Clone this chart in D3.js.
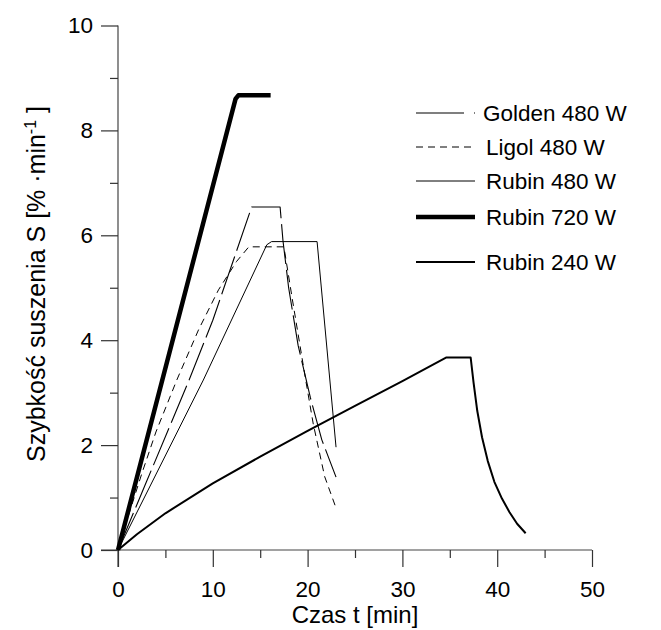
<!DOCTYPE html>
<html>
<head>
<meta charset="utf-8">
<script src="https://cdn.jsdelivr.net/npm/d3@7/dist/d3.min.js"></script>
<style>
  body { margin: 0; background: #fff; }
  text { font-family: "Liberation Sans", Arial, sans-serif; fill: #000; }
</style>
</head>
<body>
<script>
// series: [t (min), S (%/min)]
var golden480 = [[0,0],[3,1.3],[7.5,3.24],[10,4.38],[14.1,6.54],[17.1,6.54],[17.4,5.9],[18,5.0],[19,3.9],[20.3,2.9],[21.5,2.1],[23,1.39]];
var ligol480 = [[0,0],[1,0.6],[2.5,1.45],[4,2.25],[6.2,3.24],[8.5,4.2],[10.6,4.96],[12.5,5.5],[13.8,5.78],[17.5,5.78],[18.4,4.77],[19.8,3.24],[20.6,2.4],[21.8,1.4],[23,0.8]];
var rubin480 = [[0,0],[9,3.24],[15.7,5.82],[16.2,5.88],[21,5.88],[23,1.96]];
var rubin720 = [[0,0],[12.4,8.6],[12.7,8.67],[16.1,8.67]];
var rubin240 = [[0,0],[2,0.3],[5,0.7],[10,1.27],[15,1.78],[20,2.27],[25,2.75],[30,3.22],[34.6,3.67],[37.2,3.67],[37.5,3.2],[37.9,2.65],[38.4,2.15],[39,1.7],[39.7,1.3],[40.5,0.98],[41.3,0.72],[42.1,0.5],[43,0.32]];

var xMajor = [0,10,20,30,40,50];
var xMinor = [5,15,25,35,45];
var yMajor = [0,2,4,6,8,10];
var yMinor = [1,3,5,7,9];

var series = [
  {name: "Golden 480 W", data: golden480, width: 1.1, dash: "40,6"},
  {name: "Ligol 480 W", data: ligol480, width: 1, dash: "7,5"},
  {name: "Rubin 480 W", data: rubin480, width: 1, dash: null},
  {name: "Rubin 720 W", data: rubin720, width: 4.5, dash: null},
  {name: "Rubin 240 W", data: rubin240, width: 2, dash: null}
];

var svg = d3.select("body").append("svg")
  .attr("width", 661)
  .attr("height", 630);

var x = d3.scaleLinear().domain([0, 50]).range([118, 592]);
var y = d3.scaleLinear().domain([0, 10]).range([550, 25.5]);

// axis lines (they overshoot the origin a little, as in the original)
svg.append("line").attr("x1", 101).attr("x2", x(50)).attr("y1", y(0)).attr("y2", y(0))
  .attr("stroke", "#444").attr("stroke-width", 1.2);
svg.append("line").attr("x1", x(0)).attr("x2", x(0)).attr("y1", y(10)).attr("y2", 567)
  .attr("stroke", "#444").attr("stroke-width", 1.2);

// x axis
svg.append("g").attr("transform", "translate(0," + y(0) + ")")
  .call(d3.axisBottom(x).tickValues(xMajor).tickSize(17).tickPadding(14).tickFormat(d3.format("d")));
svg.append("g").attr("transform", "translate(0," + y(0) + ")")
  .call(d3.axisBottom(x).tickValues(xMinor).tickSize(8).tickFormat(""));

// y axis
svg.append("g").attr("transform", "translate(" + x(0) + ",0)")
  .call(d3.axisLeft(y).tickValues(yMajor).tickSize(17).tickPadding(8).tickFormat(d3.format("d")));
svg.append("g").attr("transform", "translate(" + x(0) + ",0)")
  .call(d3.axisLeft(y).tickValues(yMinor).tickSize(8).tickFormat(""));

svg.selectAll(".domain").remove();
svg.selectAll(".tick line").attr("stroke", "#333").attr("stroke-width", 1.2);
svg.selectAll(".tick text").attr("font-size", 22.5).style("font-family", "'Liberation Sans', Arial, sans-serif");

// curves
var line = d3.line()
  .x(function (d) { return x(d[0]); })
  .y(function (d) { return y(d[1]); });

svg.selectAll(".curve").data(series).enter().append("path")
  .attr("class", "curve")
  .attr("d", function (d) { return line(d.data); })
  .attr("fill", "none")
  .attr("stroke", "#000")
  .attr("stroke-width", function (d) { return d.width; })
  .attr("stroke-dasharray", function (d) { return d.dash; })
  .attr("stroke-linejoin", "round");

// legend
var legendY = [113, 147, 181, 217, 262];
var leg = svg.selectAll(".leg").data(series).enter().append("g")
  .attr("class", "leg")
  .attr("transform", function (d, i) { return "translate(0," + legendY[i] + ")"; });
leg.append("line")
  .attr("x1", 416).attr("x2", 475).attr("y1", 0).attr("y2", 0)
  .attr("stroke", "#000")
  .attr("stroke-width", function (d) { return d.width; })
  .attr("stroke-dasharray", function (d) { return d.dash ? (d.dash === "40,6" ? "48,10" : d.dash) : null; });
leg.append("text")
  .attr("x", function (d, i) { return i < 1 ? 483 : 486; })
  .attr("y", 8)
  .attr("font-size", 22.5)
  .text(function (d) { return d.name; });

// axis titles
svg.append("text")
  .attr("x", x(25)).attr("y", 623)
  .attr("text-anchor", "middle")
  .attr("font-size", 24)
  .text("Czas t [min]");

var yt = svg.append("text")
  .attr("transform", "translate(45,284) rotate(-90)")
  .attr("text-anchor", "middle")
  .attr("font-size", 25);
yt.append("tspan").text("Szybkość suszenia S [% ·min");
yt.append("tspan").attr("font-size", 16).attr("dy", -9).text("-1");
yt.append("tspan").attr("dy", 9).text(" ]");
</script>
</body>
</html>
